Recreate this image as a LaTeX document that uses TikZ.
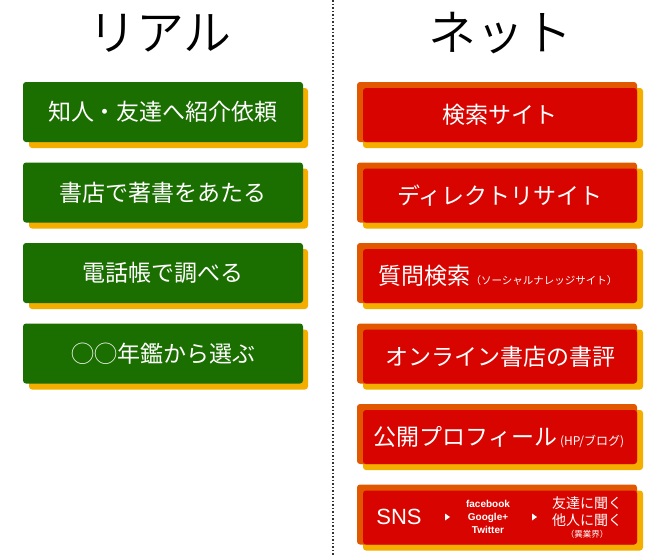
\documentclass[tikz,border=0pt]{standalone}
\usepackage{fontspec}
\setmainfont{Noto Sans CJK JP}
\newfontfamily\titlefont{Noto Sans CJK JP}[UprightFont=* DemiLight]
\newfontfamily\latinfont{Liberation Sans}
\usepackage{xcolor}
\usepackage{tikz}

\definecolor{realgreen}{RGB}{27,110,0}
\definecolor{netred}{RGB}{216,4,0}
\definecolor{netorange}{RGB}{226,88,0}
\definecolor{shadowyellow}{RGB}{244,174,0}

\begin{document}
\begin{tikzpicture}[x=1pt, y=-1pt,
    boxfill/.style={rounded corners=3pt},
    boxtext/.style={text=white, inner sep=0pt, font=\fontsize{23}{26}\selectfont},
    titletext/.style={inner sep=0pt, font=\titlefont\fontsize{48}{52}\selectfont}]
  \useasboundingbox (0,0) rectangle (662,555);
  % divider between the two columns
  \draw[line width=1.5pt, dash pattern=on 1.5pt off 2pt, black!80] (333,0) -- (333,555);
  \node[titletext] (realtitle) at (160,33) {リアル};
  \node[titletext] (nettitle) at (500,33) {ネット};
  % left column: green boxes with a yellow shadow
  \foreach \i/\txt in {0/知人・友達へ紹介依頼, 1/書店で著書をあたる, 2/電話帳で調べる, 3/◯◯年鑑から選ぶ} {
    \pgfmathsetmacro\rowy{82+80.5*\i}
    \fill[shadowyellow, boxfill] (29,\rowy+6) rectangle (308,\rowy+66);
    \fill[realgreen, boxfill] (23,\rowy) rectangle (303,\rowy+60);
    \node[boxtext] (real\i) at (163,\rowy+30) {\txt};
  }
  % right column: red boxes, orange behind, yellow shadow
  \foreach \i in {0,...,5} {
    \pgfmathsetmacro\rowy{88+80.5*\i}
    \fill[shadowyellow, boxfill] (363,\rowy) rectangle (643,\rowy+60);
    \fill[netorange, boxfill] (357,\rowy-6) rectangle (637,\rowy+54);
    \fill[netred, boxfill] (363,\rowy) rectangle (637,\rowy+54);
  }
  \node[boxtext] (net0) at (500,115) {検索サイト};
  \node[boxtext] (net1) at (500,195.5) {ディレクトリサイト};
  \node[boxtext] (net2) at (498,276) {質問検索{\fontsize{10.5}{12}\selectfont （ソーシャルナレッジサイト）}};
  \node[boxtext] (net3) at (500,356.5) {オンライン書店の書評};
  \node[boxtext] (net4) at (499,437) {公開プロフィール{\fontsize{12}{14}\selectfont\ (HP/ブログ)}};
  % SNS row
  \node[boxtext, font=\latinfont\fontsize{22}{24}\selectfont] (sns) at (399,517) {SNS};
  \node[boxtext, align=center, font=\latinfont\fontsize{10}{13}\selectfont\bfseries] (snslist) at (488,517)
    {facebook\\Google+\\Twitter};
  \node[boxtext, align=center, font=\fontsize{14}{17}\selectfont] (askwho) at (587,512)
    {友達に聞く\\他人に聞く};
  \node[boxtext, font=\fontsize{8.5}{10}\selectfont] (askfield) at (587,534) {（異業界）};
  % small arrowheads between the SNS parts
  \fill[white] (445,513.5) -- (450,517) -- (445,520.5) -- cycle;
  \fill[white] (532,513.5) -- (537,517) -- (532,520.5) -- cycle;
\end{tikzpicture}
\end{document}
